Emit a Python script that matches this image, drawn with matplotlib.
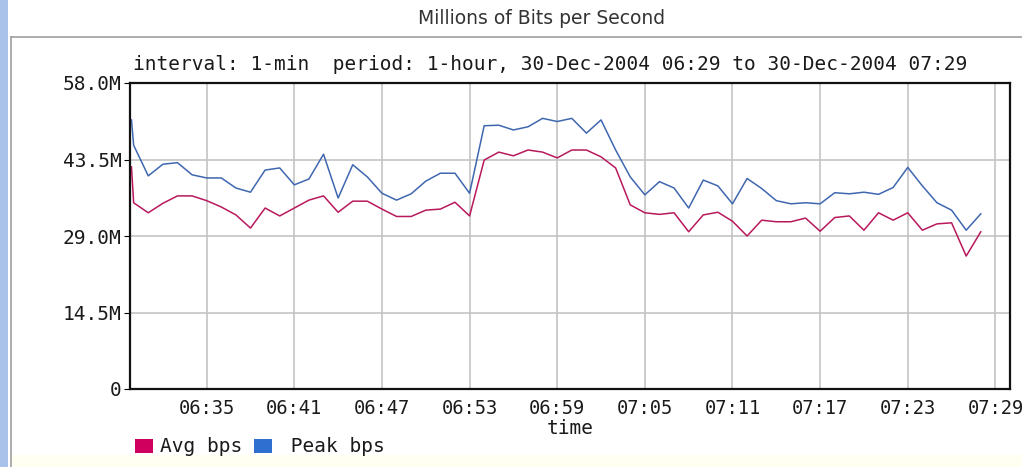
import numpy as np
import matplotlib
matplotlib.use('Agg')
import matplotlib.pyplot as plt
from matplotlib.patches import Rectangle, Patch
from matplotlib.lines import Line2D

# minutes after 06:29 (first sample is a short spike just before 06:30)
minutes = [0.85] + list(range(1, 60))

avg_bps = [42.1, 35.3, 33.4, 35.2, 36.6, 36.6, 35.7, 34.5, 33.0, 30.5, 34.3,
           32.8, 34.3, 35.8, 36.6, 33.5, 35.6, 35.6, 34.1, 32.7, 32.7,
           33.9, 34.1, 35.4, 32.8, 43.4, 44.9, 44.2, 45.3, 44.9, 43.8,
           45.3, 45.3, 44.0, 41.9, 34.9, 33.4, 33.1, 33.4, 29.8, 33.0,
           33.5, 31.8, 29.0, 32.0, 31.7, 31.7, 32.4, 29.9, 32.5, 32.8,
           30.1, 33.4, 32.0, 33.4, 30.1, 31.3, 31.5, 25.2, 29.8]

peak_bps = [51.0, 46.2, 40.4, 42.6, 42.9, 40.6, 40.0, 40.0, 38.1, 37.3, 41.5,
            41.9, 38.7, 39.8, 44.5, 36.2, 42.5, 40.2, 37.1, 35.8, 37.0,
            39.4, 40.9, 40.9, 37.1, 49.9, 50.0, 49.1, 49.7, 51.3, 50.7,
            51.3, 48.5, 51.0, 45.3, 40.2, 36.8, 39.3, 38.1, 34.3, 39.6,
            38.5, 35.1, 39.9, 38.0, 35.7, 35.1, 35.3, 35.1, 37.2, 37.0,
            37.3, 36.9, 38.2, 42.0, 38.5, 35.3, 33.9, 30.1, 33.2]

xtick_pos = [6, 12, 18, 24, 30, 36, 42, 48, 54, 60]
xtick_labels = ['06:35', '06:41', '06:47', '06:53', '06:59',
                '07:05', '07:11', '07:17', '07:23', '07:29']
ytick_pos = [0, 14.5, 29.0, 43.5, 58.0]
ytick_labels = ['0', '14.5M', '29.0M', '43.5M', '58.0M']

avg_col = '#b8195c'
peak_col = '#3f67b0'
mono = 'DejaVu Sans Mono'
txt_col = '#1a1a1a'

fig = plt.figure(figsize=(10.22, 4.67), dpi=100)
fig.patch.set_facecolor('white')

# page decorations: blue strip on the left, panel frame
fig.add_artist(Rectangle((0, 0), 8 / 1022, 1, transform=fig.transFigure,
                         facecolor='#a8c2ea', edgecolor='none'))
fig.add_artist(Line2D([11 / 1022, 11 / 1022], [0, 1 - 37 / 467],
                      transform=fig.transFigure, color='#a0a0a0', lw=1.2))
fig.add_artist(Line2D([11 / 1022, 1], [1 - 37 / 467, 1 - 37 / 467],
                      transform=fig.transFigure, color='#a0a0a0', lw=1.2))
fig.add_artist(Rectangle((12 / 1022, 0), 1, 12 / 467, transform=fig.transFigure,
                         facecolor='#fffff2', edgecolor='none'))

fig.text(542 / 1022, 1 - 18 / 467, 'Millions of Bits per Second',
         ha='center', va='center', fontsize=13.5, color='#333333')
fig.text(133 / 1022, 1 - 65 / 467,
         'interval: 1-min  period: 1-hour, 30-Dec-2004 06:29 to 30-Dec-2004 07:29',
         ha='left', va='center', fontfamily=mono, fontsize=14, color=txt_col)

ax = fig.add_axes([130 / 1022, 78 / 467, 880 / 1022, 306 / 467])
ax.plot(minutes, peak_bps, color=peak_col, lw=1.1)
ax.plot(minutes, avg_bps, color=avg_col, lw=1.1)

ax.set_xlim(0.75, 61.0)
ax.set_ylim(0, 58)
ax.set_xticks(xtick_pos)
ax.set_xticklabels(xtick_labels, fontfamily=mono, fontsize=13.5, color=txt_col)
ax.set_yticks(ytick_pos)
ax.set_yticklabels(ytick_labels, fontfamily=mono, fontsize=14, color=txt_col)
ax.tick_params(axis='x', length=0, pad=7)
ax.tick_params(axis='y', length=4, pad=2)
ax.grid(True, color='#c4c4c4', lw=1.2)
ax.set_axisbelow(True)
for s in ax.spines.values():
    s.set_linewidth(1.6)
    s.set_color('#111111')

ax.set_xlabel('time', fontfamily=mono, fontsize=14, labelpad=1, color=txt_col)

handles = [Patch(facecolor='#d0005f', edgecolor='none'),
           Patch(facecolor='#2f6fd0', edgecolor='none')]
fig.legend(handles, ['Avg bps', ' Peak bps'], loc='center left',
           bbox_to_anchor=(135 / 1022, 1 - 447 / 467), ncol=2, frameon=False,
           prop={'family': mono, 'size': 14}, handlelength=0.9,
           handleheight=0.75, handletextpad=0.4, columnspacing=0.6,
           borderaxespad=0, borderpad=0, labelcolor=txt_col)

fig.savefig('out.png', dpi=100)
